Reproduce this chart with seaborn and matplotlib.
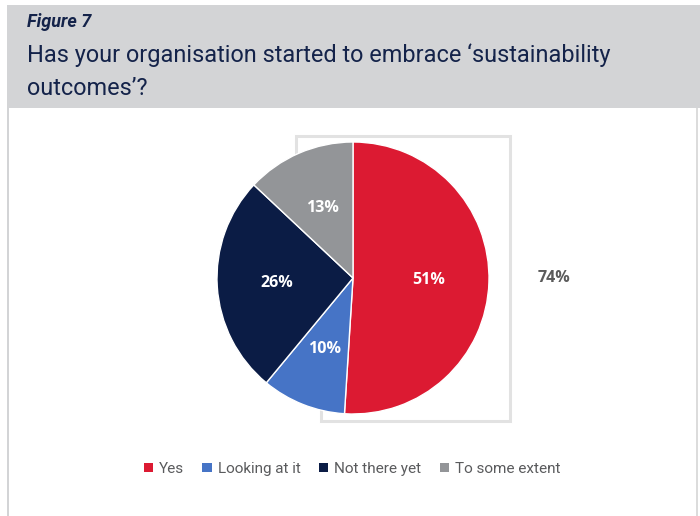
import matplotlib
matplotlib.use("Agg")
import matplotlib.pyplot as plt
from matplotlib.patches import Rectangle, Patch
from matplotlib.lines import Line2D
import seaborn as sns

# Survey answers
categories = ["Yes", "Looking at it", "Not there yet", "To some extent"]
shares = [51, 10, 26, 13]
combined_label = "74%"

palette = sns.color_palette(["#dc1a32", "#4674c6", "#0b1c45", "#939598"])

sns.set_theme(style="white")
narrow = ["Roboto", "DejaVu Sans"]
plt.rcParams["font.family"] = narrow

W, H = 700, 516
fig = plt.figure(figsize=(W / 100, H / 100), dpi=100)
fig.patch.set_facecolor("white")


def fx(px):
    return px / W


def fy(py):
    return 1 - py / H


# header band and side rules
fig.add_artist(Rectangle((fx(7), fy(108)), 1 - fx(7), fy(5) - fy(108),
                         transform=fig.transFigure, facecolor="#d3d4d6",
                         edgecolor="none", zorder=-5))
fig.add_artist(Rectangle((fx(7), 0), fx(2), fy(108),
                         transform=fig.transFigure, facecolor="#d3d4d6",
                         edgecolor="none", zorder=-5))
fig.add_artist(Rectangle((fx(696), 0), fx(2), fy(108),
                         transform=fig.transFigure, facecolor="#dcdcdc",
                         edgecolor="none", zorder=-5))

fig.text(fx(27), fy(27), "Figure 7", fontsize=13, fontweight="bold",
         fontstyle="italic", color="#14234a", family=narrow, va="baseline")
fig.text(fx(27), fy(62), "Has your organisation started to embrace \u2018sustainability",
         fontsize=16.9, color="#14234a", family=narrow, va="baseline")
fig.text(fx(27), fy(95), "outcomes\u2019?",
         fontsize=16.9, color="#14234a", family=narrow, va="baseline")

# frame around the combined share
cx, cy, r = 353, 278, 136
fig.add_artist(Line2D([fx(296), fx(296), fx(510), fx(510), fx(321), fx(321)],
                      [fy(cy), fy(136), fy(136), fy(421), fy(421), fy(cy)],
                      transform=fig.transFigure, color="#e2e2e2", lw=2.2,
                      solid_joinstyle="miter", zorder=-1))

ax = fig.add_axes([fx(cx - r), fy(cy + r), (2 * r) / W, (2 * r) / H])
ax.axis("off")
wedges, texts, autotexts = ax.pie(
    shares, colors=palette, startangle=90, counterclock=False,
    radius=1, autopct=lambda p: f"{p:.0f}%", pctdistance=0.56,
    wedgeprops=dict(edgecolor="white", linewidth=1),
    textprops=dict(color="white", fontsize=11.5, fontweight="bold",
                   family=["Open Sans", "DejaVu Sans"]),
)
ax.set_xlim(-1, 1)
ax.set_ylim(-1, 1)
ax.set_aspect("equal")

fig.text(fx(554), fy(278), combined_label, fontsize=11.5, fontweight="bold",
         color="#5b5b5b", family=["Open Sans", "DejaVu Sans"],
         ha="center", va="center")

handles = [Patch(facecolor=c, edgecolor="none") for c in palette]
leg = fig.legend(handles, categories, loc="center", bbox_to_anchor=(fx(352), fy(469)),
                 ncol=4, frameon=False, handlelength=0.6, handleheight=0.6,
                 handletextpad=0.4, columnspacing=1.2,
                 prop=dict(family=narrow, size=11))
for t in leg.get_texts():
    t.set_color("#5a5b5d")

fig.savefig("out.png", dpi=100)
